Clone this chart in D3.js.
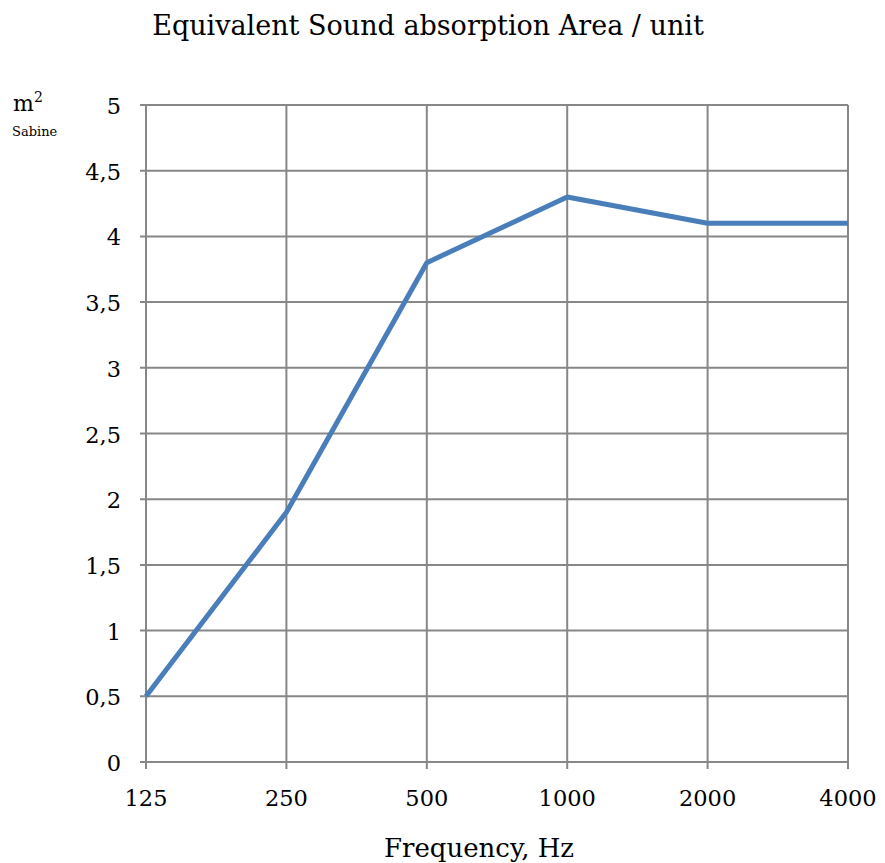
<!DOCTYPE html>
<html><head><meta charset="utf-8">
<script src="https://cdn.jsdelivr.net/npm/d3@7"></script>
<style>body{margin:0;background:#fff}svg{display:block}text{font-family:"DejaVu Serif",serif;fill:#000}</style>
</head><body><svg id="c" width="885" height="863"></svg>
<script>
const categories = ["125","250","500","1000","2000","4000"];
const values = [0.5, 1.9, 3.8, 4.3, 4.1, 4.1];
const yTicks = [0,0.5,1,1.5,2,2.5,3,3.5,4,4.5,5];
const title = "Equivalent Sound absorption Area / unit";
const xTitle = "Frequency, Hz";

const svg = d3.select("#c");
const L=146, R=848, T=105, B=762;
const x = d3.scalePoint().domain(categories).range([L,R]);
const y = d3.scaleLinear().domain([0,5]).range([B,T]);
const grid="#878787";

svg.append("g").selectAll("line").data(yTicks).join("line")
  .attr("x1",L-6).attr("x2",R).attr("y1",d=>y(d)).attr("y2",d=>y(d))
  .attr("stroke",grid).attr("stroke-width",2);
svg.append("g").selectAll("line").data(categories).join("line")
  .attr("x1",d=>x(d)).attr("x2",d=>x(d)).attr("y1",T).attr("y2",B+7)
  .attr("stroke",grid).attr("stroke-width",2);

const fmt = d=>String(d).replace(".",",");
svg.append("g").selectAll("text").data(yTicks).join("text")
  .attr("x",121).attr("y",d=>y(d)+9).attr("text-anchor","end")
  .attr("font-size",22.5).text(fmt);
svg.append("g").selectAll("text").data(categories).join("text")
  .attr("x",d=>x(d)).attr("y",806).attr("text-anchor","middle")
  .attr("font-size",22.5).text(d=>d);

svg.append("path").datum(values)
  .attr("d",d3.line().x((d,i)=>x(categories[i])).y(d=>y(d)))
  .attr("fill","none").attr("stroke","#4a7ebb").attr("stroke-width",5)
  .attr("stroke-linejoin","round");

svg.append("text").attr("x",428).attr("y",35).attr("text-anchor","middle")
  .attr("font-size",27).text(title);
svg.append("text").attr("x",479).attr("y",857).attr("text-anchor","middle")
  .attr("font-size",26).text(xTitle);
const m = svg.append("text").attr("x",13).attr("y",111).attr("font-size",22);
m.append("tspan").text("m");
m.append("tspan").attr("font-size",14).attr("dy",-9).text("2");
svg.append("text").attr("x",12).attr("y",136).attr("font-size",13).text("Sabine");
</script></body></html>
